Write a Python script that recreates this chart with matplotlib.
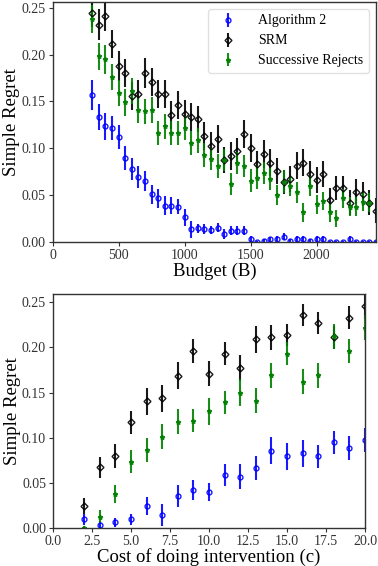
import numpy as np
import matplotlib
matplotlib.use("Agg")
import matplotlib.pyplot as plt

# ---- data: simple regret vs budget (top panel) ----
budget = np.arange(300, 2451, 50)

alg2_budget = [0.157, 0.1335, 0.1235, 0.1218, 0.112, 0.090, 0.0783, 0.0694, 0.0652, 0.0513,
               0.047, 0.039, 0.039, 0.038, 0.0267, 0.0139, 0.015, 0.0142, 0.0131, 0.0156,
               0.0089, 0.0124, 0.0124, 0.0124, 0.0032, 0.0006, 0.0013, 0.003, 0.0035, 0.006,
               0.0013, 0.0035, 0.0035, 0.0013, 0.0035, 0.0035, 0.0006, 0.0006, 0.0006, 0.0035,
               0.0006, 0.0006, 0.0006, 0.0006]
alg2_budget_err = [0.016, 0.014, 0.014, 0.013, 0.013, 0.013, 0.012, 0.012, 0.011, 0.010,
                   0.010, 0.010, 0.009, 0.008, 0.009, 0.009, 0.005, 0.005, 0.004, 0.005,
                   0.005, 0.005, 0.005, 0.005, 0.003, 0.001, 0.002, 0.003, 0.003, 0.004,
                   0.002, 0.003, 0.003, 0.002, 0.003, 0.003, 0.001, 0.001, 0.001, 0.003,
                   0.001, 0.001, 0.001, 0.001]

srm_budget = [0.244, 0.232, 0.241, 0.211, 0.188, 0.1806, 0.1556, 0.1584, 0.1806, 0.1705,
              0.158, 0.158, 0.1353, 0.1467, 0.137, 0.1335, 0.131, 0.1128, 0.103, 0.110,
              0.0879, 0.0915, 0.0968, 0.1154, 0.1004, 0.0833, 0.094, 0.085, 0.0762, 0.0641,
              0.0676, 0.0818, 0.085, 0.0726, 0.0666, 0.073, 0.0452, 0.0577, 0.0577, 0.0423,
              0.054, 0.0516, 0.0423, 0.0338]
srm_budget_err = [0.015, 0.016, 0.016, 0.015, 0.016, 0.015, 0.015, 0.015, 0.016, 0.015,
                  0.015, 0.015, 0.015, 0.015, 0.015, 0.015, 0.014, 0.015, 0.014, 0.015,
                  0.014, 0.015, 0.014, 0.015, 0.015, 0.014, 0.015, 0.014, 0.014, 0.013,
                  0.014, 0.014, 0.014, 0.014, 0.014, 0.014, 0.013, 0.013, 0.013, 0.013,
                  0.013, 0.013, 0.013, 0.013]

sr_budget = [0.2375, 0.198, 0.1948, 0.176, 0.159, 0.149, 0.161, 0.1406, 0.1395, 0.1413,
             0.1164, 0.1235, 0.1164, 0.1164, 0.1218, 0.1058, 0.1086, 0.0933, 0.0887, 0.0815,
             0.0879, 0.062, 0.0844, 0.0815, 0.0658, 0.069, 0.0737, 0.0673, 0.0505, 0.0647,
             0.0601, 0.0534, 0.032, 0.0601, 0.0406, 0.0441, 0.032, 0.0256, 0.047, 0.038,
             0.038, 0.0434, 0.0423, np.nan]
sr_budget_err = [0.015, 0.014, 0.015, 0.014, 0.014, 0.014, 0.014, 0.014, 0.013, 0.014,
                 0.013, 0.013, 0.013, 0.013, 0.013, 0.013, 0.013, 0.013, 0.012, 0.013,
                 0.012, 0.012, 0.012, 0.012, 0.012, 0.012, 0.012, 0.012, 0.011, 0.012,
                 0.011, 0.011, 0.010, 0.011, 0.010, 0.010, 0.010, 0.009, 0.010, 0.010,
                 0.010, 0.010, 0.010, 0.010]

# ---- data: simple regret vs intervention cost (bottom panel) ----
cost = np.arange(2, 21)

alg2_cost = [0.0096, 0.0033, 0.0063, 0.0096, 0.0247, 0.0144, 0.0357, 0.042, 0.0395, 0.0586,
             0.0568, 0.0667, 0.0855, 0.0796, 0.0826, 0.0793, 0.0948, 0.0885, 0.0973]
alg2_cost_err = [0.006, 0.004, 0.005, 0.006, 0.010, 0.012, 0.012, 0.011, 0.010, 0.012,
                 0.014, 0.013, 0.015, 0.015, 0.015, 0.013, 0.013, 0.013, 0.013]

srm_cost = [0.0243, 0.0671, 0.0796, 0.117, 0.1405, 0.1438, 0.1685, 0.196, 0.171, 0.193,
            0.177, 0.209, 0.211, 0.214, 0.236, 0.227, 0.211, 0.233, 0.2456]
srm_cost_err = [0.009, 0.012, 0.013, 0.013, 0.015, 0.015, 0.015, 0.013, 0.014, 0.013,
                0.014, 0.015, 0.014, 0.012, 0.012, 0.012, 0.013, 0.013, 0.014]

sr_cost = [0.0, 0.0125, 0.0376, 0.0734, 0.0863, 0.101, 0.1176, 0.119, 0.129, 0.139,
           0.150, 0.141, 0.169, 0.193, 0.162, 0.169, 0.212, 0.196, 0.2216]
sr_cost_err = [0.002, 0.007, 0.010, 0.013, 0.013, 0.014, 0.014, 0.013, 0.015, 0.013,
               0.015, 0.014, 0.014, 0.013, 0.014, 0.014, 0.014, 0.013, 0.014]

plt.rcParams['font.family'] = ['Liberation Serif', 'DejaVu Serif']
plt.rcParams['axes.edgecolor'] = '0.2'
plt.rcParams['xtick.color'] = '0.2'
plt.rcParams['ytick.color'] = '0.2'

fig = plt.figure(figsize=(3.78, 5.66), dpi=100)
ax1 = fig.add_axes([0.1394, 0.5719, 0.8553, 0.4246])
ax2 = fig.add_axes([0.1402, 0.0671, 0.8254, 0.4134])

styles = [
    ("Algorithm 2", "blue", "o"),
    ("SRM", "black", "D"),
    ("Successive Rejects", "green", "*"),
]


def draw_panel(ax, x, series):
    for (label, color, marker), (y, err) in zip(styles, series):
        ax.errorbar(x, y, yerr=err, fmt=marker, color=color, ecolor=color,
                    markersize=3.5, mfc='none' if marker != '*' else color,
                    mew=1.0, elinewidth=1.5, capsize=0, label=label, alpha=0.9)
    ax.tick_params(labelsize=10, length=3, width=0.8, pad=2)
    for sp in ax.spines.values():
        sp.set_linewidth(1.0)


draw_panel(ax1, budget, [(alg2_budget, alg2_budget_err),
                         (srm_budget, srm_budget_err),
                         (sr_budget, sr_budget_err)])
ax1.set_xlim(0, 2450)
ax1.set_ylim(0, 0.256)
ax1.set_xticks([0, 500, 1000, 1500, 2000])
ax1.set_yticks([0.0, 0.05, 0.10, 0.15, 0.20, 0.25])
ax1.set_yticklabels(["0.00", "0.05", "0.10", "0.15", "0.20", "0.25"])
ax1.set_xlabel("Budget (B)", fontsize=13.5, labelpad=0)
ax1.set_ylabel("Simple Regret", fontsize=13.5, labelpad=1)
ax1.legend(loc='upper right', fontsize=10, frameon=True, fancybox=True,
           edgecolor='0.85', labelspacing=0.5, handletextpad=1.2,
           borderaxespad=0.5, handlelength=2.0)

draw_panel(ax2, cost, [(alg2_cost, alg2_cost_err),
                       (srm_cost, srm_cost_err),
                       (sr_cost, sr_cost_err)])
ax2.set_xlim(0, 20)
ax2.set_ylim(0, 0.259)
ax2.set_xticks(np.arange(0, 20.1, 2.5))
ax2.set_yticks([0.0, 0.05, 0.10, 0.15, 0.20, 0.25])
ax2.set_yticklabels(["0.00", "0.05", "0.10", "0.15", "0.20", "0.25"])
ax2.set_xlabel("Cost of doing intervention (c)", fontsize=13.5, labelpad=0)
ax2.set_ylabel("Simple Regret", fontsize=13.5, labelpad=1)

fig.savefig("out.png", dpi=100)
